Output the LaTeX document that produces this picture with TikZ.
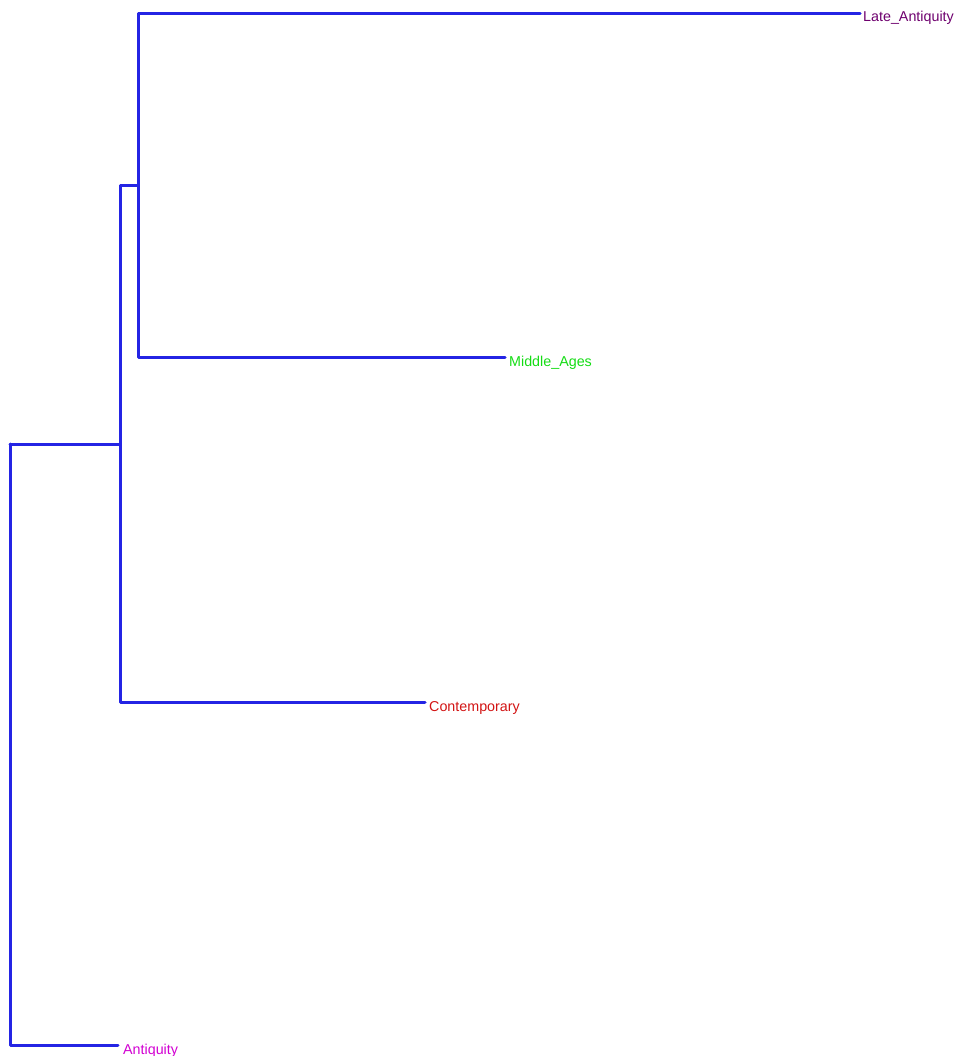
\documentclass[tikz,border=0pt]{standalone}
\usepackage{fontspec}
\setmainfont{Liberation Sans}
\definecolor{branch}{RGB}{36,36,228}
\definecolor{laC}{RGB}{110,0,110}
\definecolor{maC}{RGB}{20,220,20}
\definecolor{coC}{RGB}{210,20,20}
\definecolor{anC}{RGB}{210,0,210}
\begin{document}
\begin{tikzpicture}[x=1pt,y=-1pt,
  br/.style={draw=branch,line width=3pt,line cap=round,line join=round},
  lab/.style={anchor=base west,inner sep=0pt,font=\fontsize{14.3}{17}\selectfont}]
\useasboundingbox (0,0) rectangle (957,1056);
\coordinate (root) at (10,444);
\coordinate (n1) at (120,444);
\coordinate (n2) at (138,186);
\coordinate (tLA) at (860,14);
\coordinate (tMA) at (505,357);
\coordinate (tC) at (425,702);
\coordinate (tA) at (118,1045);
\node[lab,text=laC] (LA) at (863,22) {Late\_Antiquity};
\node[lab,text=maC] (MA) at (509,366) {Middle\_Ages};
\node[lab,text=coC] (C) at (429,711) {Contemporary};
\node[lab,text=anC] (A) at (123,1054) {Antiquity};
\draw[br] (n1) -- (root);
\draw[br] (root) |- (tA);
\draw[br] (n1) |- (tC);
\draw[br] (n1) |- (n2);
\draw[br] (n2) |- (tLA);
\draw[br] (n2) |- (tMA);
\end{tikzpicture}
\end{document}
